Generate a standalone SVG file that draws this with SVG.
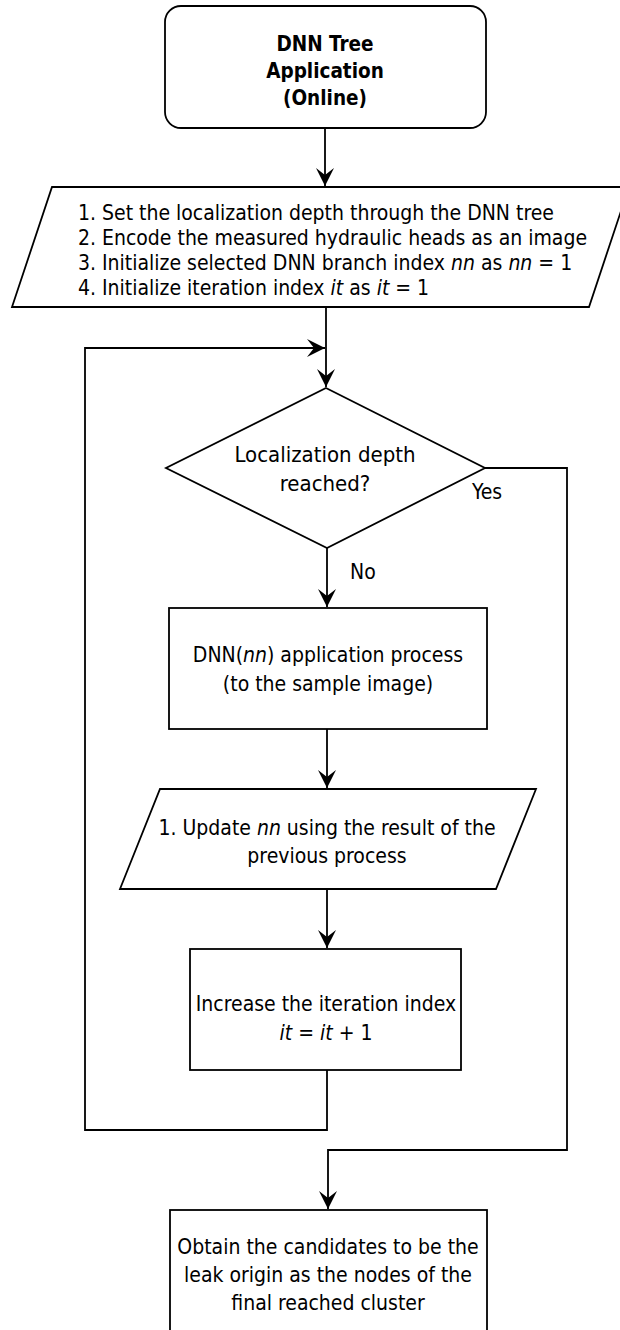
<svg xmlns="http://www.w3.org/2000/svg" width="620" height="1330" viewBox="0 0 620 1330">
<style>
.s{fill:#fff;stroke:#000;stroke-width:1.8}
.c{fill:none;stroke:#000;stroke-width:1.8}
text{font-family:"DejaVu Sans Condensed","DejaVu Sans",sans-serif;font-stretch:condensed;font-size:21px;fill:#000}
.m{text-anchor:middle}
.b{font-weight:bold;font-size:20.5px}
.i{font-style:italic}
.d{font-size:22px}
</style>
<defs>
<marker id="ah" viewBox="0 0 18 18" refX="18" refY="9" markerWidth="18" markerHeight="18" markerUnits="userSpaceOnUse" orient="auto">
<path d="M0,0 L18,9 L0,18 L7,9 Z" fill="#000"/>
</marker>
</defs>
<rect width="620" height="1330" fill="#fff"/>
<g id="connectors">
<path class="c" d="M325,128 V186" marker-end="url(#ah)"/>
<path class="c" d="M326,308 V387" marker-end="url(#ah)"/>
<path class="c" d="M327,548 V607" marker-end="url(#ah)"/>
<path class="c" d="M327,729 V788" marker-end="url(#ah)"/>
<path class="c" d="M327,889 V948" marker-end="url(#ah)"/>
<path class="c" d="M327,1070 V1130 H85 V348 H325" marker-end="url(#ah)"/>
<path class="c" d="M485,468 H567 V1150 H328 V1209" marker-end="url(#ah)"/>
<text x="350" y="579">No</text>
<text x="472" y="499">Yes</text>
</g>
<g id="start">
<rect class="s" x="165" y="6" width="321" height="122" rx="16"/>
<text class="m b" x="325" y="51">DNN Tree</text>
<text class="m b" x="325" y="78">Application</text>
<text class="m b" x="325" y="105">(Online)</text>
</g>
<g id="init">
<path class="s" d="M52,187 H629 L589,307 H12 Z"/>
<text x="78" y="220">1. Set the localization depth through the DNN tree</text>
<text x="78" y="245">2. Encode the measured hydraulic heads as an image</text>
<text x="78" y="270">3. Initialize selected DNN branch index <tspan class="i">nn</tspan> as <tspan class="i">nn</tspan> = 1</text>
<text x="78" y="295">4. Initialize iteration index <tspan class="i">it</tspan> as <tspan class="i">it</tspan> = 1</text>
</g>
<g id="decision">
<path class="s" d="M326,388 L485,468 L327,548 L166,468 Z"/>
<text class="m d" x="325" y="462">Localization depth</text>
<text class="m d" x="325" y="491">reached?</text>
</g>
<g id="apply">
<rect class="s" x="169" y="608" width="318" height="121"/>
<text class="m" x="328" y="662">DNN(<tspan class="i">nn</tspan>) application process</text>
<text class="m" x="328" y="691">(to the sample image)</text>
</g>
<g id="update">
<path class="s" d="M160,789 H536 L496,889 H120 Z"/>
<text class="m" x="327" y="835">1. Update <tspan class="i">nn</tspan> using the result of the</text>
<text class="m" x="327" y="863">previous process</text>
</g>
<g id="increase">
<rect class="s" x="190" y="949" width="271" height="121"/>
<text class="m" x="326" y="1011">Increase the iteration index</text>
<text class="m" x="326" y="1040"><tspan class="i">it</tspan> = <tspan class="i">it</tspan> + 1</text>
</g>
<g id="final">
<rect class="s" x="170" y="1210" width="317" height="140"/>
<text class="m" x="328" y="1254">Obtain the candidates to be the</text>
<text class="m" x="328" y="1282">leak origin as the nodes of the</text>
<text class="m" x="328" y="1310">final reached cluster</text>
</g>
</svg>
